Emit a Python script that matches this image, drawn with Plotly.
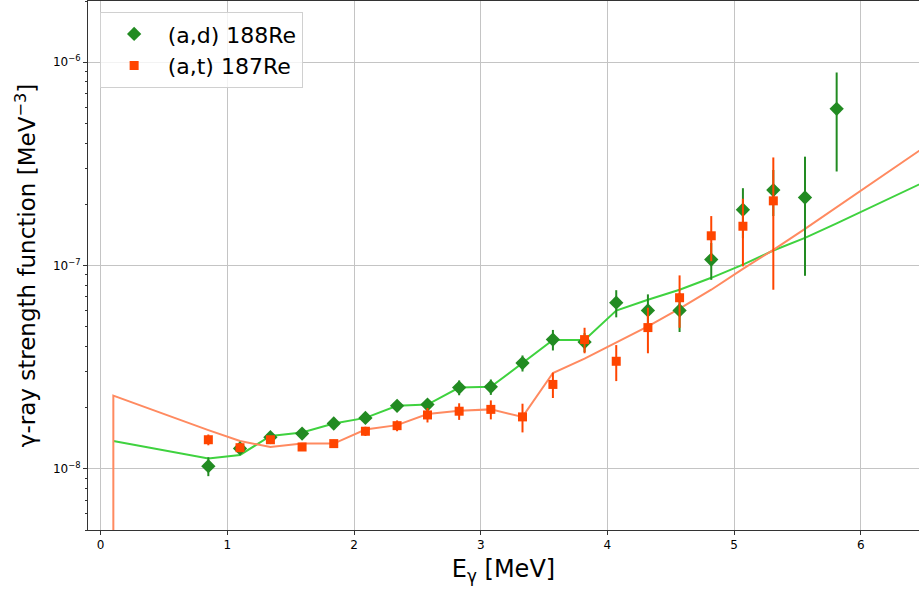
import numpy as np
import plotly.graph_objects as go

# Gamma-ray strength functions from Oslo-method analysis
# (a,d) 188Re: measured points
e_ad = [0.85, 1.10, 1.34, 1.59, 1.84, 2.09, 2.34, 2.58, 2.83, 3.08, 3.33,
        3.57, 3.82, 4.07, 4.32, 4.57, 4.82, 5.07, 5.31, 5.56, 5.81]
f_ad = [1.03e-8, 1.26e-8, 1.43e-8, 1.49e-8, 1.67e-8, 1.78e-8, 2.04e-8, 2.07e-8,
        2.51e-8, 2.53e-8, 3.31e-8, 4.32e-8, 4.20e-8, 6.56e-8, 6.01e-8, 6.01e-8,
        1.07e-7, 1.88e-7, 2.35e-7, 2.16e-7, 5.90e-7]
df_ad = [0.11e-8, 0.05e-8, 0.06e-8, 0.06e-8, 0.07e-8, 0.08e-8, 0.10e-8, 0.12e-8,
         0.21e-8, 0.22e-8, 0.30e-8, 0.50e-8, 0.45e-8, 1.0e-8, 1.2e-8, 1.3e-8,
         0.22e-7, 0.52e-7, 0.60e-7, 1.27e-7, 3.0e-7]

# (a,t) 187Re: measured points
e_at = [0.85, 1.10, 1.34, 1.59, 1.84, 2.09, 2.34, 2.58, 2.83, 3.08, 3.33,
        3.57, 3.82, 4.07, 4.32, 4.57, 4.82, 5.07, 5.31]
f_at = [1.39e-8, 1.27e-8, 1.39e-8, 1.28e-8, 1.33e-8, 1.53e-8, 1.63e-8, 1.84e-8,
        1.92e-8, 1.96e-8, 1.80e-8, 2.60e-8, 4.32e-8, 3.38e-8, 4.95e-8, 6.94e-8,
        1.40e-7, 1.56e-7, 2.08e-7]
df_at = [0.085e-8, 0.06e-8, 0.06e-8, 0.05e-8, 0.06e-8, 0.08e-8, 0.10e-8, 0.15e-8,
         0.18e-8, 0.21e-8, 0.29e-8, 0.37e-8, 0.62e-8, 0.68e-8, 1.25e-8, 2.0e-8,
         0.35e-7, 0.57e-7, 1.32e-7]

# Model curves
e_mod_ad = [0.1, 0.85, 1.10, 1.34, 1.59, 1.84, 2.09, 2.34, 2.58, 2.83, 3.08, 3.33,
            3.57, 3.82, 4.07, 4.32, 4.57, 4.82, 5.07, 5.31, 5.56, 5.81, 6.55]
f_mod_ad = [1.37e-8, 1.125e-8, 1.17e-8, 1.45e-8, 1.51e-8, 1.67e-8, 1.78e-8, 2.04e-8,
            2.07e-8, 2.51e-8, 2.53e-8, 3.31e-8, 4.30e-8, 4.30e-8, 6.0e-8, 6.79e-8,
            7.6e-8, 8.7e-8, 1.01e-7, 1.185e-7, 1.368e-7, 1.61e-7, 2.66e-7]

e_mod_at = [0.1, 0.1, 0.85, 1.10, 1.34, 1.59, 1.84, 2.09, 2.34, 2.58, 2.83, 3.08, 3.33,
            3.57, 3.82, 4.07, 4.32, 4.57, 4.82, 5.07, 5.31, 5.56, 5.81, 6.55]
f_mod_at = [1e-10, 2.29e-8, 1.55e-8, 1.37e-8, 1.28e-8, 1.33e-8, 1.33e-8, 1.56e-8,
            1.64e-8, 1.86e-8, 1.93e-8, 1.96e-8, 1.80e-8, 2.96e-8, 3.48e-8, 4.16e-8,
            5.02e-8, 6.13e-8, 7.6e-8, 9.63e-8, 1.194e-7, 1.514e-7, 1.94e-7, 4.0e-7]

x_ticks = [0, 1, 2, 3, 4, 5, 6]
y_ticks = [1e-8, 1e-7, 1e-6]
y_ticktext = ["10<sup>\u22128</sup>", "10<sup>\u22127</sup>", "10<sup>\u22126</sup>"]

GREEN_PT = "#228B22"
RED_PT = "#FF4500"
GREEN_LN = "#3FD23F"
RED_LN = "#FF8A60"

fig = go.Figure()

fig.add_trace(go.Scatter(x=e_mod_ad, y=f_mod_ad, mode="lines",
                         line=dict(color=GREEN_LN, width=2), showlegend=False,
                         hoverinfo="skip"))
fig.add_trace(go.Scatter(x=e_mod_at, y=f_mod_at, mode="lines",
                         line=dict(color=RED_LN, width=2), showlegend=False,
                         hoverinfo="skip"))

fig.add_trace(go.Scatter(
    x=e_ad, y=f_ad, mode="markers", name="(a,d) 188Re",
    marker=dict(symbol="diamond", size=11, color=GREEN_PT),
    error_y=dict(type="data", array=df_ad, width=0, thickness=2, color=GREEN_PT),
))
fig.add_trace(go.Scatter(
    x=e_at, y=f_at, mode="markers", name="(a,t) 187Re",
    marker=dict(symbol="square", size=9, color=RED_PT),
    error_y=dict(type="data", array=df_at, width=0, thickness=2, color=RED_PT),
))

minor_y = (np.array([2, 3, 4, 5, 6, 7, 8, 9])[None, :] *
           np.array([1e-9, 1e-8, 1e-7, 1e-6])[:, None]).ravel().tolist()

fig.update_layout(
    width=919, height=592,
    margin=dict(l=88, r=0, t=1, b=62),
    plot_bgcolor="white", paper_bgcolor="white",
    font=dict(family="DejaVu Sans", color="black"),
    legend=dict(
        x=0.014, y=0.979, xanchor="left", yanchor="top",
        bgcolor="rgba(255,255,255,0.8)", bordercolor="#d0d0d0", borderwidth=1,
        font=dict(size=22, family="DejaVu Sans"),
        itemwidth=57,
    ),
    xaxis=dict(
        range=[-0.1, 6.46], tickvals=x_ticks,
        ticks="outside", ticklen=4, tickwidth=1, tickcolor="#333",
        tickfont=dict(size=12),
        showline=True, linecolor="#333", linewidth=1, mirror=True,
        showgrid=True, gridcolor="#c4c4c4", gridwidth=1, zeroline=False,
        title=dict(text="E<sub>\u03b3</sub> [MeV]", font=dict(size=24), standoff=8),
    ),
    yaxis=dict(
        type="log", range=[np.log10(5e-9), np.log10(2e-6)],
        tickvals=y_ticks, ticktext=y_ticktext,
        ticks="outside", ticklen=4, tickwidth=1, tickcolor="#333",
        tickfont=dict(size=12),
        minor=dict(tickvals=minor_y, ticks="outside", ticklen=2, tickcolor="#333",
                   showgrid=False),
        showline=True, linecolor="#333", linewidth=1,
        showgrid=True, gridcolor="#c4c4c4", gridwidth=1, zeroline=False,
        title=dict(text="\u03b3-ray strength function [MeV<sup>\u22123</sup>]",
                   font=dict(size=23), standoff=10),
    ),
)

fig.write_html("out.html")
